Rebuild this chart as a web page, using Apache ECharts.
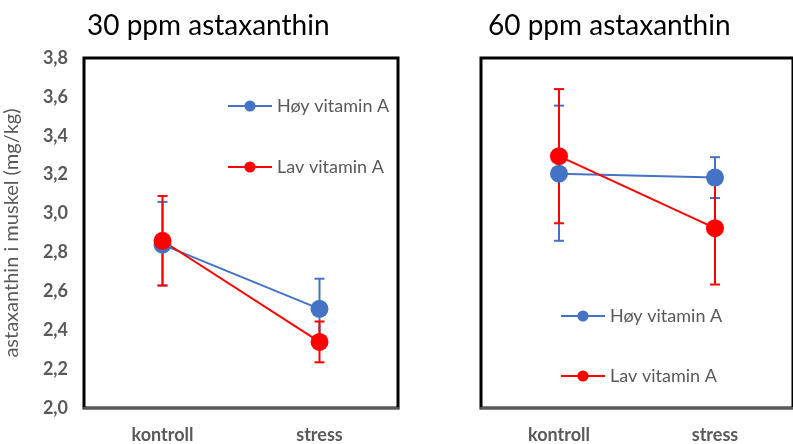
<!DOCTYPE html>
<html lang="no">
<head>
    <meta charset="UTF-8">
    <title>Astaxanthin i muskel</title>
    <script src="https://cdn.jsdelivr.net/npm/echarts@6/dist/echarts.min.js"></script>
    <style>
        html, body { margin: 0; padding: 0; background: #fff; }
        #main { width: 793px; height: 444px; }
    </style>
</head>
<body>
<div id="main"></div>
<script>
    // data
    var categories = ['kontroll', 'stress'];
    var yTicks = ['2,0', '2,2', '2,4', '2,6', '2,8', '3,0', '3,2', '3,4', '3,6', '3,8'];

    // 30 ppm astaxanthin
    var hoy30 = [2.84, 2.51];
    var hoy30Err = [[2.63, 3.06], [2.355, 2.665]];
    var lav30 = [2.86, 2.34];
    var lav30Err = [[2.63, 3.09], [2.235, 2.445]];

    // 60 ppm astaxanthin
    var hoy60 = [3.205, 3.185];
    var hoy60Err = [[2.86, 3.555], [3.08, 3.29]];
    var lav60 = [3.295, 2.925];
    var lav60Err = [[2.95, 3.64], [2.635, 3.215]];

    var BLUE = '#4472C4', RED = '#FF0000', GREY = '#595959';
    var FONT = 'Lato, "Open Sans", sans-serif';

    function errData(arr) {
        return arr.map(function (d, i) { return [i, d[0], d[1]]; });
    }

    // error bars: vertical line with small caps
    function errSeries(name, idx, arr, color) {
        return {
            type: 'custom',
            name: name,
            xAxisIndex: idx,
            yAxisIndex: idx,
            z: 2,
            data: errData(arr),
            renderItem: function (params, api) {
                var lo = api.coord([api.value(0), api.value(1)]);
                var hi = api.coord([api.value(0), api.value(2)]);
                var w = 5;
                var st = {stroke: color, lineWidth: 2};
                return {
                    type: 'group',
                    children: [
                        {type: 'line', shape: {x1: lo[0], y1: lo[1], x2: hi[0], y2: hi[1]}, style: st},
                        {type: 'line', shape: {x1: lo[0] - w, y1: lo[1], x2: lo[0] + w, y2: lo[1]}, style: st},
                        {type: 'line', shape: {x1: hi[0] - w, y1: hi[1], x2: hi[0] + w, y2: hi[1]}, style: st}
                    ]
                };
            }
        };
    }

    function lineSeries(name, idx, data, color) {
        return {
            type: 'line',
            name: name,
            xAxisIndex: idx,
            yAxisIndex: idx,
            z: 3,
            data: data,
            symbol: 'circle',
            symbolSize: 18,
            itemStyle: {color: color},
            lineStyle: {color: color, width: 2}
        };
    }

    function xAxis(idx) {
        return {
            type: 'category',
            gridIndex: idx,
            data: categories,
            boundaryGap: true,
            axisLine: {show: true, lineStyle: {color: GREY, width: 2}},
            axisTick: {show: false},
            axisLabel: {color: GREY, fontFamily: FONT, fontWeight: 'bold', fontSize: 18, margin: 18},
            z: 10
        };
    }

    function yAxis(idx, withLabels) {
        return {
            type: 'value',
            gridIndex: idx,
            min: 2.0,
            max: 3.8,
            interval: 0.2,
            splitLine: {show: false},
            axisLine: {show: false},
            axisTick: {show: false},
            axisLabel: {
                show: withLabels,
                color: GREY,
                fontFamily: FONT,
                fontWeight: 'bold',
                fontSize: 18,
                margin: 16,
                formatter: function (v) { return yTicks[Math.round((v - 2.0) / 0.2)]; }
            },
            name: withLabels ? 'astaxanthin i muskel (mg/kg)' : '',
            nameLocation: 'middle',
            nameGap: 62,
            nameTextStyle: {color: GREY, fontFamily: FONT, fontSize: 20}
        };
    }

    var legendNames = ['Høy vitamin A', 'Lav vitamin A'];
    function legend(left, top, gap) {
        return {
            data: legendNames,
            orient: 'vertical',
            left: left,
            top: top,
            padding: 0,
            itemGap: gap,
            itemWidth: 44,
            itemHeight: 14,
            textStyle: {color: GREY, fontFamily: FONT, fontSize: 18},
            selectedMode: false
        };
    }

    var chart = echarts.init(document.getElementById('main'), null, {renderer: 'canvas'});
    chart.setOption({
        animation: false,
        backgroundColor: '#fff',
        title: [
            {text: '30 ppm astaxanthin', left: 82, top: 7, textStyle: {color: '#000', fontFamily: FONT, fontSize: 28, fontWeight: 'normal'}},
            {text: '60 ppm astaxanthin', left: 483, top: 7, textStyle: {color: '#000', fontFamily: FONT, fontSize: 28, fontWeight: 'normal'}}
        ],
        legend: [legend(227, 97, 43), legend(560, 307, 42)],
        grid: [
            {left: 84, top: 58, width: 314, height: 350, show: true, borderColor: '#000', borderWidth: 3, backgroundColor: 'transparent'},
            {left: 481, top: 58, width: 314, height: 350, show: true, borderColor: '#000', borderWidth: 3, backgroundColor: 'transparent'}
        ],
        xAxis: [xAxis(0), xAxis(1)],
        yAxis: [yAxis(0, true), yAxis(1, false)],
        series: [
            lineSeries('Høy vitamin A', 0, hoy30, BLUE),
            lineSeries('Lav vitamin A', 0, lav30, RED),
            errSeries('Høy feil 30', 0, hoy30Err, BLUE),
            errSeries('Lav feil 30', 0, lav30Err, RED),
            lineSeries('Høy vitamin A', 1, hoy60, BLUE),
            lineSeries('Lav vitamin A', 1, lav60, RED),
            errSeries('Høy feil 60', 1, hoy60Err, BLUE),
            errSeries('Lav feil 60', 1, lav60Err, RED)
        ]
    });
</script>
</body>
</html>
